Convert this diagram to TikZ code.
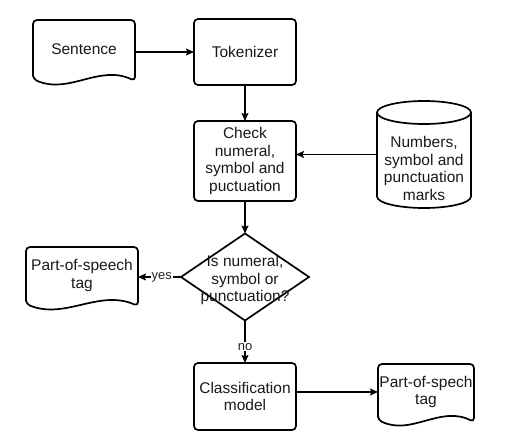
\documentclass[tikz,border=0pt]{standalone}
\usepackage{fontspec}
\setmainfont{Liberation Sans}
\usetikzlibrary{shapes.geometric,arrows.meta,calc}
\newcommand\docdraw[1]{\draw[ln,rounded corners=4pt] (#1.south west) -- (#1.north west) -- (#1.north east) -- ([yshift=-2pt]#1.south east) .. controls ($(#1.south west)!0.65!(#1.south east)+(0,15)$) and ($(#1.south west)!0.35!(#1.south east)+(0,-16)$) .. (#1.south west) -- cycle;}
\begin{document}
\begin{tikzpicture}[x=1pt,y=1pt,
  ln/.style={line width=1.7pt, draw=black},
  txt/.style={align=center, font=\fontsize{15.5}{17.5}\selectfont, text=black!90},
  box/.style={txt, ln, rounded corners=4pt, minimum width=102pt, inner sep=0pt, outer sep=0pt},
  docnode/.style={txt, inner sep=0pt, outer sep=0pt},
  arr/.style={line width=1.5pt, -{Stealth[length=8pt,width=7pt,inset=1.5pt]}},
  lbl/.style={font=\fontsize{13}{15}\selectfont, fill=white, inner sep=1pt, text=black!85}
]
\useasboundingbox (0,0) rectangle (528,-446);

\node[docnode, minimum width=102pt, minimum height=59pt] (sent) at (84,-49.5) {Sentence};
\docdraw{sent}
\node[box, minimum height=66pt] (tok) at (245,-52) {Tokenizer};
\node[box, minimum height=80pt] (chk) at (245,-161) {Check\\numeral,\\symbol and\\puctuation};

\node[minimum width=94pt, minimum height=107pt, inner sep=0pt, outer sep=0pt] (db) at (424,-154.5) {};
\draw[ln] ([yshift=-11.5pt]db.north west) -- ([yshift=11.5pt]db.south west) arc[start angle=180,end angle=360,x radius=47pt,y radius=11.5pt] -- ([yshift=-11.5pt]db.north east) arc[start angle=0,end angle=180,x radius=47pt,y radius=11.5pt] -- cycle;
\draw[ln] ([yshift=-11.5pt]db.north west) arc[start angle=180,end angle=360,x radius=47pt,y radius=11.5pt];
\node[txt] (dbt) at (424,-168.5) {Numbers,\\symbol and\\punctuation\\marks};

\node[diamond, ln, minimum width=128pt, minimum height=87pt, inner sep=0pt, outer sep=0pt] (dec) at (245,-277) {};
\node[txt] (dect) at (245,-280) {Is numeral,\\symbol or\\punctuation?};

\node[docnode, minimum width=112pt, minimum height=57pt] (pos1) at (82,-275.5) {Part-of-speech\\tag};
\docdraw{pos1}

\node[box, minimum height=67pt] (cls) at (245,-396.5) {Classification\\model};

\node[docnode, minimum width=96pt, minimum height=56pt] (pos2) at (426,-392) {Part-of-spech\\tag};
\docdraw{pos2}

\draw[arr] (sent.east |- tok.west) -- (tok.west);
\draw[arr] (tok.south) -- (chk.north);
\draw[arr] (db.west) -- (db.west -| chk.east);
\draw[arr] (chk.south) -- (dec.north);
\draw[arr] (dec.west) -- (dec.west -| pos1.east) node[lbl, pos=0.45] {yes};
\draw[arr] (dec.south) -- (cls.north) node[lbl, pos=0.62] {no};
\draw[arr] (cls.east |- pos2.west) -- (pos2.west);
\end{tikzpicture}
\end{document}
